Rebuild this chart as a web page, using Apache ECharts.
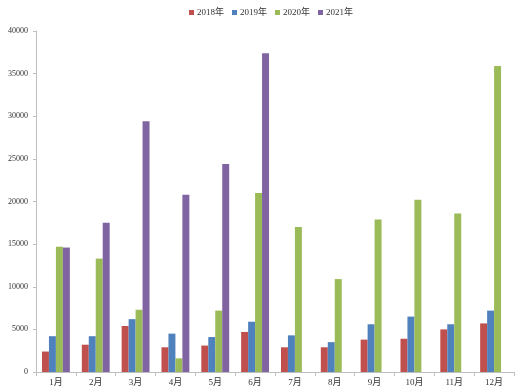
<!DOCTYPE html>
<html>
<head>
<meta charset="utf-8">
<script src="https://cdn.jsdelivr.net/npm/echarts@6/dist/echarts.min.js"></script>
<style>
  html, body { margin: 0; padding: 0; background: #fff; }
  #grafico { width: 515px; height: 391px; }
</style>
</head>
<body>
<div id="grafico"></div>
<script>
// Datos del gráfico
var meses = ["1月", "2月", "3月", "4月", "5月", "6月", "7月", "8月", "9月", "10月", "11月", "12月"];
var nombres = ["2018年", "2019年", "2020年", "2021年"];
var datos2018 = [2400, 3200, 5400, 2900, 3100, 4700, 2900, 2900, 3800, 3900, 5000, 5700];
var datos2019 = [4200, 4200, 6200, 4500, 4100, 5900, 4300, 3500, 5600, 6500, 5600, 7200];
var datos2020 = [14700, 13300, 7300, 1600, 7200, 21000, 17000, 10900, 17900, 20200, 18600, 35900];
var datos2021 = [14600, 17500, 29400, 20800, 24400, 37400, "-", "-", "-", "-", "-", "-"];

var fuente = "'Liberation Serif', 'Noto Sans CJK SC', serif";

var option = {
  animation: false,
  color: ["#C0504D", "#4F81BD", "#9BBB59", "#8064A2"],
  legend: {
    data: nombres,
    top: 3,
    left: 184,
    itemWidth: 5,
    itemHeight: 5,
    itemGap: 8,
    icon: "rect",
    textStyle: { fontFamily: fuente, fontSize: 9, color: "#333", padding: [0, 0, 0, -2] },
  },
  grid: {
    left: 36,
    right: 1,
    top: 31,
    bottom: 19,
  },
  xAxis: {
    type: "category",
    data: meses,
    axisLine: { lineStyle: { color: "#bfbfbf" } },
    axisTick: { show: true, length: 4, lineStyle: { color: "#bfbfbf" } },
    axisLabel: { fontFamily: fuente, fontSize: 9, color: "#333", margin: 6 },
  },
  yAxis: {
    type: "value",
    min: 0,
    max: 40000,
    interval: 5000,
    splitLine: { show: false },
    axisLine: { show: true, lineStyle: { color: "#bfbfbf" } },
    axisTick: { show: true, length: 3, lineStyle: { color: "#bfbfbf" } },
    axisLabel: {
      fontFamily: fuente,
      fontSize: 8,
      color: "#333",
      margin: 8,
      formatter: function (v) { return String(v); },
    },
  },
  series: [],
};

var valores = [datos2018, datos2019, datos2020, datos2021];
for (var i = 0; i < nombres.length; i++) {
  option.series.push({
    name: nombres[i],
    type: "bar",
    data: valores[i],
    barGap: "0%",
    barCategoryGap: "30%",
  });
}

var chart = echarts.init(document.getElementById("grafico"));
chart.setOption(option);
</script>
</body>
</html>
